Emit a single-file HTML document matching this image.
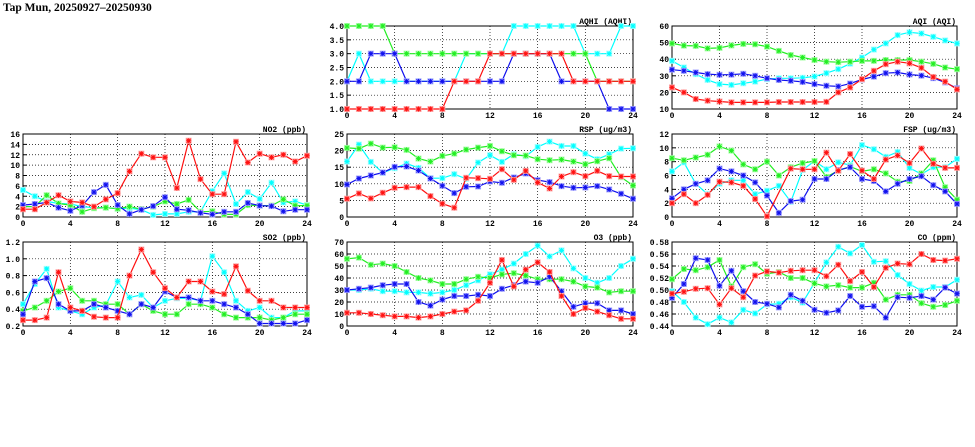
<!DOCTYPE html>
<html><head><meta charset="utf-8"><style>
html,body{margin:0;padding:0;background:#fff;}
svg{display:block;}
text{font-family:"Liberation Mono","DejaVu Sans Mono",monospace;font-size:8px;fill:#000;font-weight:bold;}
</style></head><body>
<svg id="s" width="975" height="447" viewBox="0 0 975 447" xmlns="http://www.w3.org/2000/svg">
<text x="3" y="11" style="font-family:'Liberation Serif',serif;font-size:11.5px;">Tap Mun, 20250927–20250930</text>
</svg>
<script>
var S=document.getElementById('s');var NS='http://www.w3.org/2000/svg';
function el(t,a,txt){var e=document.createElementNS(NS,t);for(var k in a)e.setAttribute(k,a[k]);if(txt!==undefined)e.textContent=txt;S.appendChild(e);return e;}
var cols=[{x:23,w:284},{x:347,w:286},{x:672,w:285}];
var rows=[{y:26,h:83},{y:134,h:83},{y:242,h:84}];
var C={c:'#00ffff',g:'#22ee22',b:'#1010ee',r:'#ff1010'};
var L={c:'#aaffff',g:'#aaffaa',b:'#aaaaff',r:'#ffaaaa'};
var P=[
{c:1,r:0,t:'AQHI (AQHI)',y0:1,y1:4,ticks:[1,1.5,2,2.5,3,3.5,4],f:1,d:{
g:[4,4,4,4,3,3,3,3,3,3,3,3,3,3,3,3,3,3,3,3,3,2,2,2,2],
c:[2,3,2,2,2,2,2,2,2,2,3,3,3,3,4,4,4,4,4,4,3,3,3,4,4],
b:[2,2,3,3,3,2,2,2,2,2,2,2,2,2,3,3,3,3,2,2,2,2,1,1,1],
r:[1,1,1,1,1,1,1,1,1,2,2,2,3,3,3,3,3,3,3,2,2,2,2,2,2]}},
{c:2,r:0,t:'AQI (AQI)',y0:10,y1:60,ticks:[10,20,30,40,50,60],f:0,d:{
g:[49.5,48.2,48,46.5,46.8,48.3,49.2,49,47.6,45,42.5,41,39.5,38.5,38.2,38.5,39,39,39.5,39.5,39.5,38.5,37.2,35,34],
c:[39,35,31,27.5,25,24.5,25.5,26.5,28,28.5,28.5,28.8,29.6,31.6,34,37.3,41,45.8,49.5,54.5,56.2,55.5,53.5,51.3,49.5],
b:[33.7,33,32,31,30.6,30.7,31.2,30,28.5,27.5,27,26.3,25,24,23.6,25.3,27.8,29.5,31.6,32,30.8,30.1,28.6,26,22.5],
r:[23,20,16,15,14.5,14,14,14,14,14.2,14.2,14.2,14.2,14.3,20,23,28,33,37,38.5,37.5,34.8,29.3,26.5,21.8]}},
{c:0,r:1,t:'NO2 (ppb)',y0:0,y1:16,ticks:[0,2,4,6,8,10,12,14,16],f:0,d:{
c:[5.2,4,3,2.6,2.5,2,1.8,1.8,1.6,1.7,1.4,0.4,0.6,0.6,1,1,5,8.4,2.5,4.8,3.5,6.6,2.8,3,2.3],
g:[2,2,4.2,2.6,2.3,1,1.7,1.8,1.6,2,1.5,2,3,2.5,3.3,1,1.1,0.5,0.5,2.3,2.2,2.2,3.4,2.2,2.2],
b:[2.3,2.5,2.8,1.8,1.2,2.2,4.8,6.2,2.3,0.6,1.4,2.1,3.8,1.5,1.3,0.8,0.5,1,1,2.7,2.2,2.1,1.1,1.4,1.4],
r:[1.5,1.5,2.8,4.2,3,2.8,2,3.4,4.6,8.8,12.2,11.5,11.5,5.6,14.7,7.3,4.4,4.4,14.5,10.5,12.2,11.5,12,10.7,11.8]}},
{c:1,r:1,t:'RSP (ug/m3)',y0:0,y1:25,ticks:[0,5,10,15,20,25],f:0,d:{
g:[20.8,20.6,22.1,20.9,21,20.2,17.6,16.7,18.4,19.1,20.3,20.9,21.4,19.8,18.6,18.5,17.4,17.1,17.3,16.7,15.9,16.8,17.7,12,9.5],
c:[16.7,21.8,16.6,13.3,14.7,16.1,14.8,11.7,11.7,12.9,11.5,16.4,18.6,16.6,18.9,18.3,21.1,22.7,21.4,21.4,19.1,17.4,18.9,20.6,20.7],
b:[9.8,11.6,12.5,13.4,15.1,15.2,14,11.6,9.4,7.2,9.1,9.2,10.7,10.3,11.9,13.1,11.1,10.5,9.3,8.8,8.9,9.3,8.3,7,5.5],
r:[5.5,7.1,5.6,7.3,8.8,9,9,6.3,4,2.8,11.8,11.7,11.5,14.4,11.2,13.9,10.4,8.6,12.2,13.5,12.3,13.9,12.3,12.2,12.2]}},
{c:2,r:1,t:'FSP (ug/m3)',y0:0,y1:12,ticks:[0,2,4,6,8,10,12],f:0,d:{
g:[8.5,8.2,8.6,9,10.2,9.6,7.6,6.9,8,6,7.2,7.8,8.1,5.8,6.7,7.3,6.6,6.9,6.3,5.1,5.2,6.3,8.2,4.3,2.5],
c:[6.6,7.9,4.8,3.3,4.8,5.3,5.3,3.3,3.8,4.5,2.2,6.8,8.1,6.9,7.9,7.5,10.4,9.8,8.7,9.4,7.1,6.2,7.2,7.2,8.4],
b:[2.7,4,4.8,5.3,7,6.6,6,5,3.1,0.6,2.3,2.5,5.5,5.5,6.8,7.2,5.5,5.2,3.7,4.8,5.5,5.9,4.6,3.7,1.9],
r:[2,3.3,2,3.2,5.1,5,4.5,2.6,0.1,null,7,6.9,6.9,9.3,6.7,9.1,6.7,5.5,8.3,8.9,7.8,9.9,7.7,7.1,7.1]}},
{c:0,r:2,t:'SO2 (ppb)',y0:0.2,y1:1.2,ticks:[0.2,0.4,0.6,0.8,1.0,1.2],f:1,d:{
c:[.46,.70,.88,.42,.38,.34,.42,.45,.73,.54,.57,.42,.50,.53,.53,.50,1.03,.84,.50,.38,.42,.30,.30,.38,.38],
g:[.38,.42,.50,.61,.65,.50,.50,.46,.46,.34,.46,.38,.34,.34,.46,.46,.42,.34,.30,.30,.30,.27,.30,.34,.34],
b:[.34,.73,.77,.46,.38,.38,.46,.42,.38,.34,.46,.42,.61,.54,.54,.50,.50,.46,.42,.34,.23,.23,.23,.23,.27],
r:[.27,.27,.30,.84,.42,.38,.31,.30,.30,.80,1.11,.84,.65,.54,.73,.73,.61,.58,.91,.62,.50,.50,.42,.42,.42]}},
{c:1,r:2,t:'O3 (ppb)',y0:0,y1:70,ticks:[0,10,20,30,40,50,60,70],f:0,d:{
g:[56,57,51,52,50,45,40,38,35,35,39,41,40,43,44,42,39,39,39,37,33,32,28,29,29],
c:[30,30,31,29,29,28,28,27,28,30,34,38,43,47,52,60,67,58,63,48,40,36,40,50,56],
b:[30,31,32,34,35,35,20,17,22,25,25,26,25,31,34,37,36,41,29,16,19,19,13,13,10],
r:[11,11,10,9,8,8,7,8,10,12,13,21,36,55,33,47,53,45,25,10,15,12,9,6,6]}},
{c:2,r:2,t:'CO (ppm)',y0:0.44,y1:0.58,ticks:[0.44,0.46,0.48,0.50,0.52,0.54,0.56,0.58],f:2,d:{
c:[.498,.480,.454,.443,.454,.446,.467,.461,.476,.477,.488,.479,.512,.546,.572,.561,.575,.547,.548,.525,.510,.499,.505,.505,.517],
g:[.518,.535,.533,.538,.550,.506,.538,.543,.527,.530,.520,.520,.511,.506,.508,.504,.504,.512,.484,.492,.492,.478,.472,.475,.482],
b:[.487,.510,.553,.550,.507,.532,.498,.480,.477,.471,.492,.482,.467,.462,.466,.490,.472,.473,.454,.488,.487,.490,.484,.504,.494],
r:[.494,.497,.502,.503,.476,.503,.488,.524,.531,.529,.532,.533,.533,.523,.542,.515,.530,.505,.537,.544,.543,.560,.550,.549,.552]}}
];
P.forEach(function(p){
 var X=cols[p.c].x,W=cols[p.c].w,Y=rows[p.r].y,H=rows[p.r].h;
 var sx=function(i){return X+i*W/24;},sy=function(v){return Y+H-(v-p.y0)/(p.y1-p.y0)*H;};
 p.ticks.forEach(function(t){var y=sy(t);
  if(t!==p.y0&&t!==p.y1)el('line',{x1:X,x2:X+W,y1:y,y2:y,stroke:'#000','stroke-width':0.7,'stroke-dasharray':'1,2'});
  el('line',{x1:X,x2:X+4,y1:y,y2:y,stroke:'#000','stroke-width':1});
  el('text',{x:X-3,y:y+3,'text-anchor':'end'},t.toFixed(p.f));});
 for(var h=0;h<=24;h+=4){var x=sx(h);
  if(h>0&&h<24)el('line',{x1:x,x2:x,y1:Y,y2:Y+H,stroke:'#000','stroke-width':0.7,'stroke-dasharray':'1,2'});
  el('text',{x:x,y:Y+H+9,'text-anchor':'middle'},String(h));}
 el('rect',{x:X,y:Y,width:W,height:H,fill:'none',stroke:'#000','stroke-width':1});
 el('text',{x:X+W-1,y:Y-2,'text-anchor':'end'},p.t);
 ['c','g','b','r'].forEach(function(k){var a=p.d[k];if(!a)return;var pts=[];
  a.forEach(function(v,i){if(v!==null)pts.push([sx(i),sy(v)]);});
  el('polyline',{points:pts.map(function(q){return q[0].toFixed(1)+','+q[1].toFixed(1);}).join(' '),fill:'none',stroke:C[k],'stroke-width':1.2});
  pts.forEach(function(q){
   el('rect',{x:q[0]-3,y:q[1]-3,width:6,height:6,fill:L[k]});
   el('path',{d:'M'+(q[0]-2.5)+' '+q[1]+'h5M'+q[0]+' '+(q[1]-2.5)+'v5M'+(q[0]-2)+' '+(q[1]-2)+'l4 4M'+(q[0]-2)+' '+(q[1]+2)+'l4 -4',stroke:C[k],'stroke-width':1,fill:'none'});});
 });
});
</script>
</body></html>
